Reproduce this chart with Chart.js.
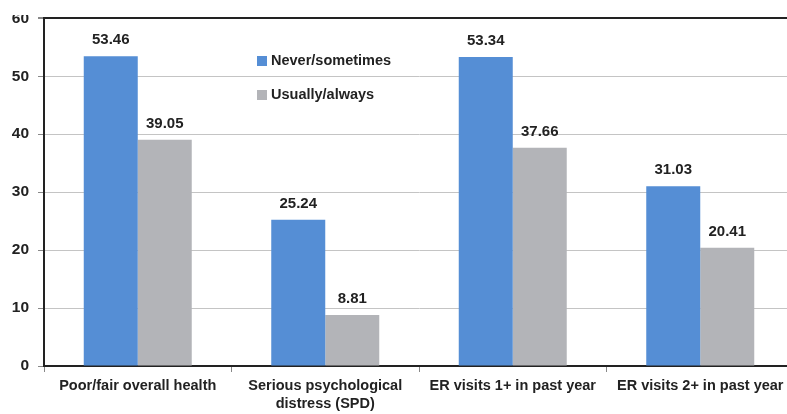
<!DOCTYPE html>
<html>
<head>
<meta charset="utf-8">
<script src="https://cdn.jsdelivr.net/npm/chart.js@4.4.0/dist/chart.umd.min.js"></script>
<style>
  html, body { margin: 0; padding: 0; background: #fff; overflow: hidden; }
  #wrap { position: relative; width: 795px; height: 414px; }
  #mask { position: absolute; left: 0; top: 0; width: 40px; height: 15px; background: #fff; }
</style>
</head>
<body>
<div id="wrap">
  <canvas id="myChart" width="795" height="414"></canvas>
  <div id="mask"></div>
</div>
<script>
const categories = [
  'Poor/fair overall health',
  ['Serious psychological', 'distress (SPD)'],
  'ER visits 1+ in past year',
  'ER visits 2+ in past year'
];
const neverSometimes = [53.46, 25.24, 53.34, 31.03];
const usuallyAlways = [39.05, 8.81, 37.66, 20.41];
const yTicks = [0, 10, 20, 30, 40, 50, 60];

const FONT = '"Liberation Sans", Arial, sans-serif';

// value labels above each bar
const barValues = {
  id: 'barValues',
  afterDatasetsDraw(chart) {
    const ctx = chart.ctx;
    ctx.save();
    ctx.font = 'bold 15px ' + FONT;
    ctx.fillStyle = '#222';
    ctx.textAlign = 'center';
    ctx.textBaseline = 'alphabetic';
    chart.data.datasets.forEach((ds, i) => {
      chart.getDatasetMeta(i).data.forEach((bar, j) => {
        ctx.fillText(ds.data[j].toFixed(2), bar.x, bar.y - 12);
      });
    });
    ctx.restore();
  }
};

// legend drawn inside the plot area
const innerLegend = {
  id: 'innerLegend',
  afterDraw(chart) {
    const ctx = chart.ctx;
    ctx.save();
    ctx.font = 'bold 14.5px ' + FONT;
    ctx.textBaseline = 'middle';
    ctx.textAlign = 'left';
    chart.data.datasets.forEach((ds, i) => {
      const y = 61 + i * 34;
      ctx.fillStyle = ds.backgroundColor;
      ctx.fillRect(257, y - 5, 10, 10);
      ctx.fillStyle = '#222';
      ctx.fillText(ds.label, 271, y);
    });
    ctx.restore();
  }
};

const ctx = document.getElementById('myChart');
const myChart = new Chart(ctx, {
  type: 'bar',
  data: {
    labels: categories,
    datasets: [
      {
        label: 'Never/sometimes',
        data: neverSometimes,
        backgroundColor: '#558ed5',
        categoryPercentage: 0.576,
        barPercentage: 1
      },
      {
        label: 'Usually/always',
        data: usuallyAlways,
        backgroundColor: '#b3b4b8',
        categoryPercentage: 0.576,
        barPercentage: 1
      }
    ]
  },
  plugins: [barValues, innerLegend],
  options: {
    responsive: false,
    animation: false,
    layout: { padding: { top: 18, right: 1, left: 0, bottom: 0 } },
    plugins: {
      legend: { display: false },
      tooltip: { enabled: false }
    },
    scales: {
      x: {
        afterFit(scale) { scale.height = 48; },
        grid: {
          offset: true,
          drawOnChartArea: false,
          tickLength: 6,
          color: '#888'
        },
        border: { color: '#222', width: 2 },
        ticks: {
          color: '#222',
          padding: 5,
          maxRotation: 0,
          autoSkip: false,
          font: { family: FONT, size: 14.5, weight: 'bold', lineHeight: 1.25 }
        }
      },
      y: {
        min: 0,
        max: 60,
        afterFit(scale) { scale.width = 44; },
        afterBuildTicks(scale) { scale.ticks = yTicks.map(v => ({ value: v })); },
        grid: {
          tickLength: 6,
          color: c => c.tick.value === 60 ? '#222' : '#c4c4c4',
          lineWidth: c => c.tick.value === 60 ? 2 : 1,
          tickColor: '#888'
        },
        border: { color: '#222', width: 2 },
        ticks: {
          color: '#222',
          padding: 9,
          font: { family: FONT, size: 15.5, weight: 'bold' }
        }
      }
    }
  }
});
</script>
</body>
</html>
